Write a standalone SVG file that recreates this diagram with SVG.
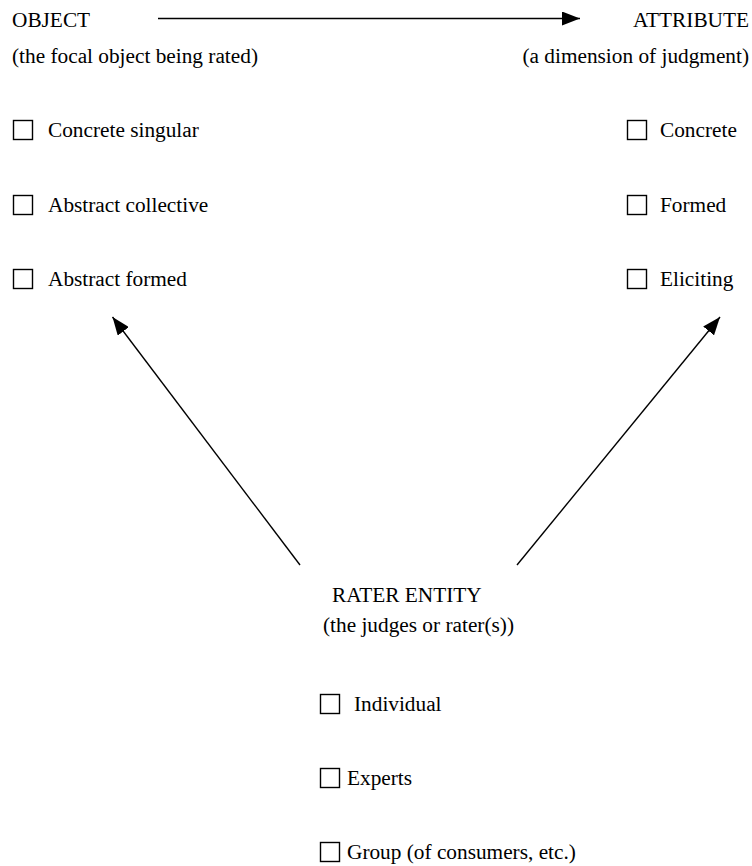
<svg xmlns="http://www.w3.org/2000/svg" width="752" height="866" viewBox="0 0 752 866">
<style>
text{font-family:'Liberation Serif','Times New Roman','DejaVu Serif',serif;font-size:21.3px;fill:#000}
.box{fill:none;stroke:#000;stroke-width:1.4}
.conn{stroke:#000;stroke-width:1.4;fill:none}
.end{text-anchor:end}
</style>
<defs>
<marker id="ah" viewBox="0 0 18 14" refX="18" refY="7" markerWidth="18" markerHeight="14" markerUnits="userSpaceOnUse" orient="auto">
<path d="M0,0 L18,7 L0,14 Z" fill="#000"/>
</marker>
</defs>
<rect width="752" height="866" fill="#fff"/>
<g id="connectors">
<line class="conn" x1="158" y1="18.5" x2="580" y2="18.5" marker-end="url(#ah)"/>
<line class="conn" x1="300" y1="565" x2="112.5" y2="317" marker-end="url(#ah)"/>
<line class="conn" x1="517" y1="565" x2="720" y2="317" marker-end="url(#ah)"/>
</g>
<g id="object">
<text x="12" y="27">OBJECT</text>
<text x="12" y="63">(the focal object being rated)</text>
<rect class="box" x="13.5" y="120.5" width="19" height="19"/>
<text x="48" y="137">Concrete singular</text>
<rect class="box" x="13.5" y="195.5" width="19" height="19"/>
<text x="48" y="212">Abstract collective</text>
<rect class="box" x="13.5" y="269.5" width="19" height="19"/>
<text x="48" y="286">Abstract formed</text>
</g>
<g id="attribute">
<text class="end" x="749" y="27">ATTRIBUTE</text>
<text class="end" x="749" y="63">(a dimension of judgment)</text>
<rect class="box" x="627.5" y="120.5" width="19" height="19"/>
<text x="660" y="137">Concrete</text>
<rect class="box" x="627.5" y="195.5" width="19" height="19"/>
<text x="660" y="212">Formed</text>
<rect class="box" x="627.5" y="269.5" width="19" height="19"/>
<text x="660" y="286">Eliciting</text>
</g>
<g id="rater">
<text x="332" y="602">RATER ENTITY</text>
<text x="323" y="632">(the judges or rater(s))</text>
<rect class="box" x="320.5" y="694.5" width="19" height="19"/>
<text x="354" y="711">Individual</text>
<rect class="box" x="320.5" y="768.5" width="19" height="19"/>
<text x="347" y="785">Experts</text>
<rect class="box" x="320.5" y="842.5" width="19" height="19"/>
<text x="347" y="859">Group (of consumers, etc.)</text>
</g>
</svg>
